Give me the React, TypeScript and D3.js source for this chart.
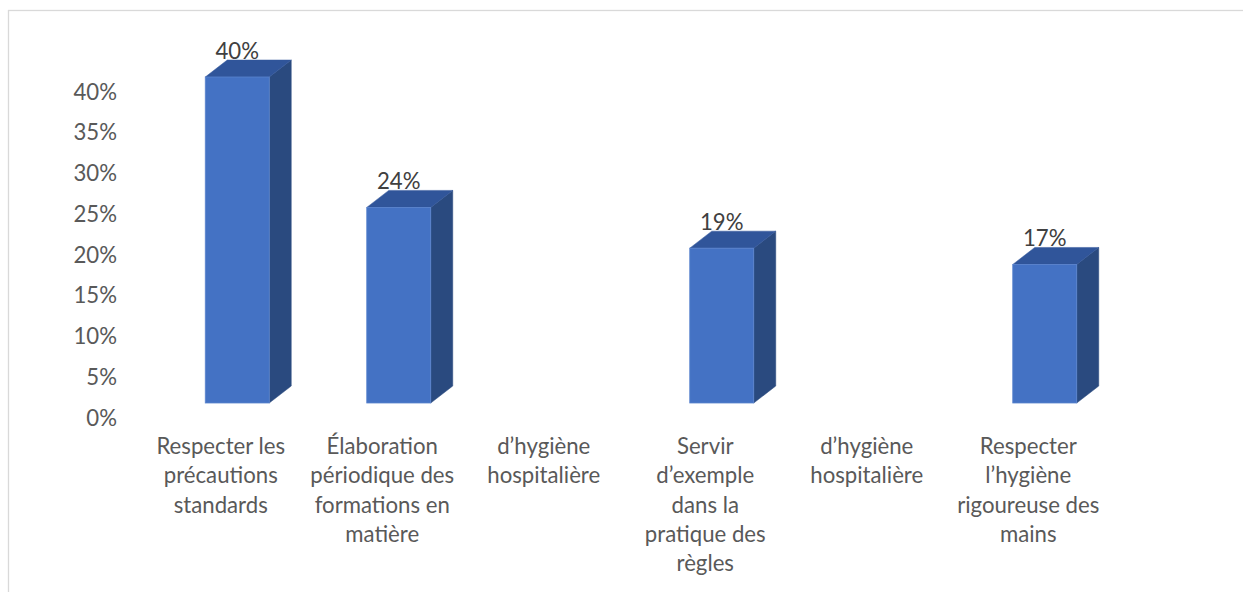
import React from "react";
import * as d3 from "d3";

const categories: string[][] = [
  ["Respecter les", "précautions", "standards"],
  ["Élaboration", "périodique des", "formations en", "matière"],
  ["d’hygiène", "hospitalière"],
  ["Servir", "d’exemple", "dans la", "pratique des", "règles"],
  ["d’hygiène", "hospitalière"],
  ["Respecter", "l’hygiène", "rigoureuse des", "mains"],
];
const values: (number | null)[] = [0.4, 0.24, null, 0.19, null, 0.17];
const dataLabels: (string | null)[] = ["40%", "24%", null, "19%", null, "17%"];
const yTicks: number[] = [0, 0.05, 0.1, 0.15, 0.2, 0.25, 0.3, 0.35, 0.4];

const W = 1243;
const H = 592;
const FONT = "Lato, 'Open Sans', sans-serif";
const FS = 22.2;

export default function App() {
  const x = d3
    .scaleBand<number>()
    .domain(categories.map((_, i) => i))
    .range([140, 140 + 6 * 161.5])
    .paddingInner(0)
    .paddingOuter(0);
  const y = d3.scaleLinear().domain([0, 0.4]).range([403, 77]);
  const barW = 64;
  const dx = 22;
  const dy = 17;
  const labelShift = 14; // axis labels lie lower than front faces
  const fmt = d3.format(".0%");

  return (
    <div style={{ position: "fixed", left: 0, top: 0 }}>
      <svg width={W} height={H} style={{ display: "block", background: "#fff" }}>
        <rect x={8.5} y={10.5} width={W + 20} height={H + 20} fill="#fff" stroke="#d9d9d9" strokeWidth={1.3} />
        {yTicks.map((t) => (
          <text
            key={t}
            x={117}
            y={y(t) + labelShift}
            textAnchor="end"
            dominantBaseline="central"
            fontFamily={FONT}
            fontSize={FS}
            fill="#595959"
          >
            {fmt(t)}
          </text>
        ))}
        {values.map((v, i) => {
          if (v == null) return null;
          const cx = (x(i) as number) + x.bandwidth() / 2 + 16.5;
          const x0 = cx - barW / 2;
          const x1 = cx + barW / 2;
          const yt = y(v);
          const yb = y(0);
          const top = `M${x0},${yt} L${x0 + dx},${yt - dy} L${x1 + dx},${yt - dy} L${x1},${yt} Z`;
          const side = `M${x1},${yt} L${x1 + dx},${yt - dy} L${x1 + dx},${yb - dy} L${x1},${yb} Z`;
          return (
            <g key={i}>
              <path d={side} fill="#2A4A7F" stroke="#2A4A7F" strokeWidth={0.5} />
              <path d={top} fill="#30559A" stroke="#30559A" strokeWidth={0.5} />
              <rect x={x0} y={yt} width={barW} height={yb - yt} fill="#4472C4" stroke="#5B84CE" strokeWidth={0.8} />
              <text
                x={cx}
                y={yt - dy - 1.5}
                textAnchor="middle"
                fontFamily={FONT}
                fontSize={FS}
                fill="#404040"
              >
                {dataLabels[i]}
              </text>
            </g>
          );
        })}
        {categories.map((lines, i) => {
          const cx = (x(i) as number) + x.bandwidth() / 2;
          return (
            <text key={i} textAnchor="middle" fontFamily={FONT} fontSize={FS} fill="#595959">
              {lines.map((ln, j) => (
                <tspan key={j} x={cx} y={454 + j * 29.3}>
                  {ln}
                </tspan>
              ))}
            </text>
          );
        })}
      </svg>
    </div>
  );
}
